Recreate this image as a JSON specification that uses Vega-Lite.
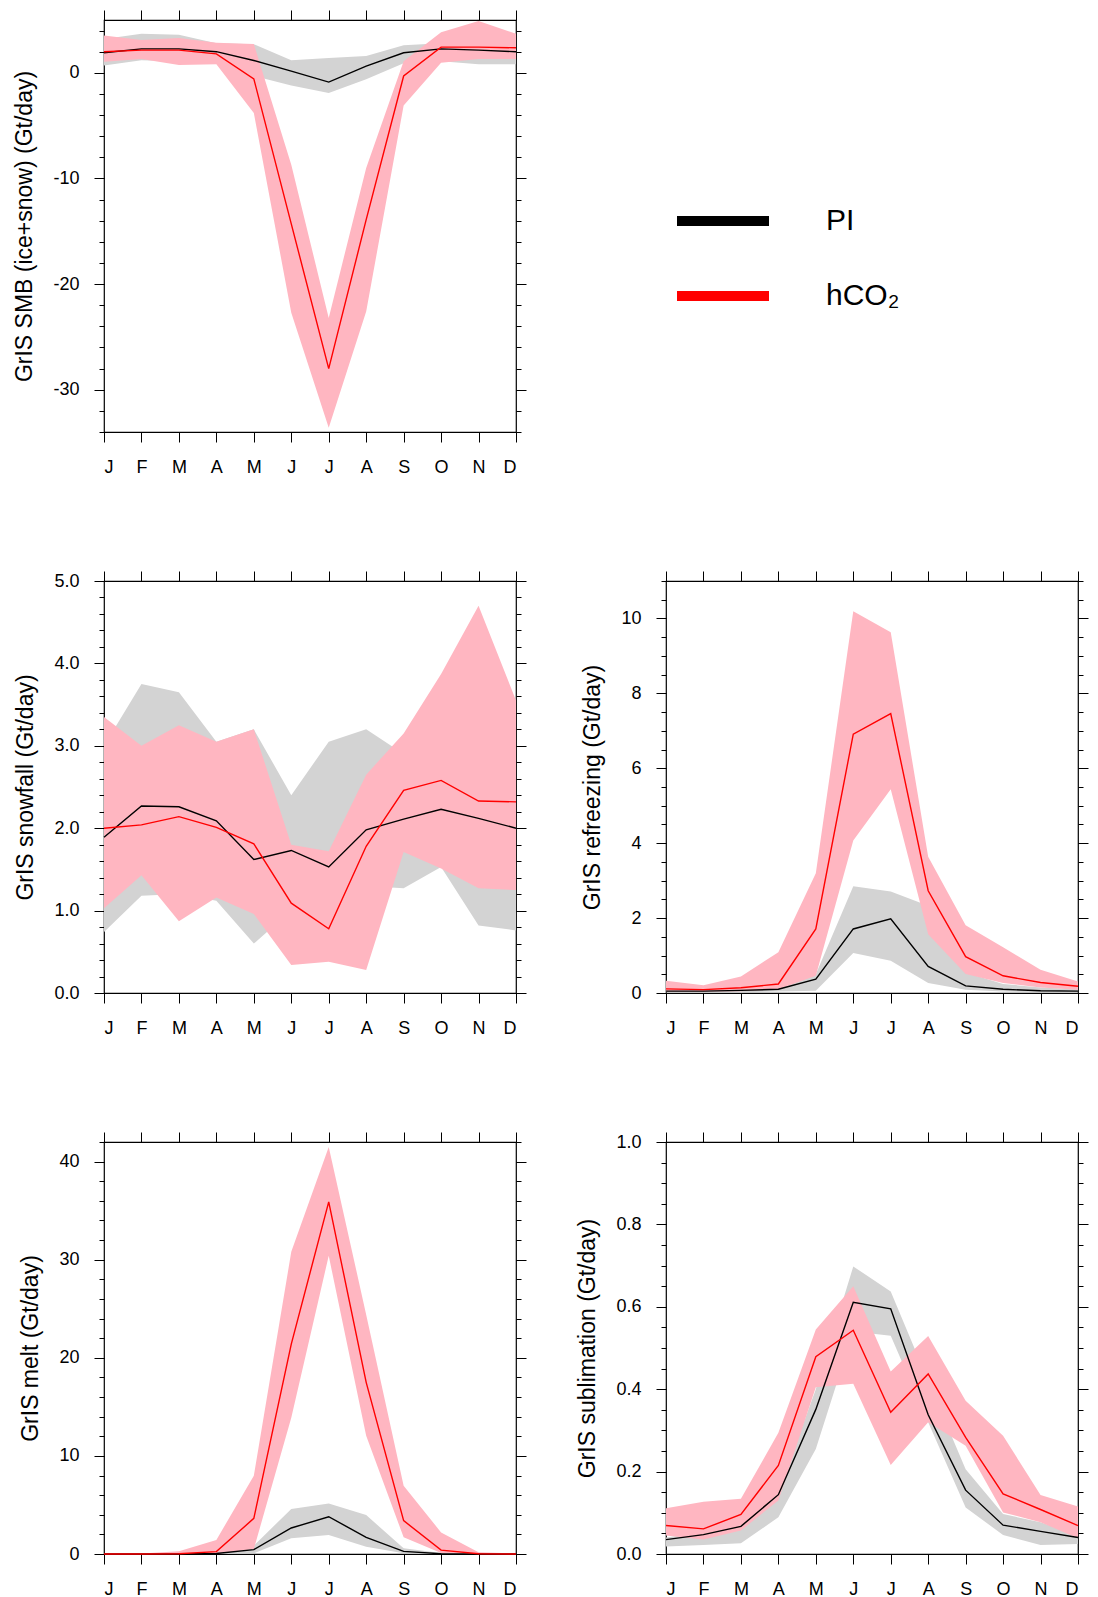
{
  "$schema": "https://vega.github.io/schema/vega-lite/v6.json",
  "padding": {"left": 13, "top": 8, "right": 5, "bottom": 5},
  "background": "white",
  "config": {
    "font": "Liberation Sans",
    "view": {"stroke": "black", "strokeWidth": 1.2},
    "axis": {"grid": false, "domain": false, "tickColor": "black", "tickWidth": 1, "labelColor": "black", "titleColor": "black", "labelFont": "Liberation Sans", "titleFont": "Liberation Sans", "labelFontSize": 18, "titleFontSize": 23, "titleFontWeight": "normal", "labelPadding": 15, "titlePadding": 16}
  },
  "datasets": {
    "smb": [
      {"m":1,"s":"PI","y":1.9,"lo":0.7,"hi":3.2},{"m":2,"s":"PI","y":2.27,"lo":1.2,"hi":3.7},{"m":3,"s":"PI","y":2.27,"lo":1.1,"hi":3.6},{"m":4,"s":"PI","y":2.0,"lo":1.0,"hi":2.8},{"m":5,"s":"PI","y":1.17,"lo":-0.3,"hi":2.7},{"m":6,"s":"PI","y":0.16,"lo":-1.2,"hi":1.2},{"m":7,"s":"PI","y":-0.88,"lo":-1.9,"hi":1.4},{"m":8,"s":"PI","y":0.63,"lo":-0.6,"hi":1.6},{"m":9,"s":"PI","y":1.9,"lo":0.9,"hi":2.6},{"m":10,"s":"PI","y":2.27,"lo":1.1,"hi":2.8},{"m":11,"s":"PI","y":2.15,"lo":0.8,"hi":2.9},{"m":12,"s":"PI","y":2.0,"lo":0.8,"hi":2.8},
      {"m":1,"s":"hCO2","y":2.0,"lo":1.04,"hi":3.53},{"m":2,"s":"hCO2","y":2.15,"lo":1.3,"hi":3.1},{"m":3,"s":"hCO2","y":2.15,"lo":0.73,"hi":3.3},{"m":4,"s":"hCO2","y":1.8,"lo":0.8,"hi":2.84},{"m":5,"s":"hCO2","y":-0.57,"lo":-3.8,"hi":2.74},{"m":6,"s":"hCO2","y":-14.3,"lo":-22.7,"hi":-8.7},{"m":7,"s":"hCO2","y":-28.0,"lo":-33.6,"hi":-23.2},{"m":8,"s":"hCO2","y":-13.9,"lo":-22.6,"hi":-9.0},{"m":9,"s":"hCO2","y":-0.3,"lo":-3.1,"hi":1.1},{"m":10,"s":"hCO2","y":2.43,"lo":0.95,"hi":3.85},{"m":11,"s":"hCO2","y":2.43,"lo":1.3,"hi":4.9},{"m":12,"s":"hCO2","y":2.37,"lo":1.3,"hi":3.7}
    ],
    "snow": [
      {"m":1,"s":"PI","y":1.89,"lo":0.74,"hi":3.0},{"m":2,"s":"PI","y":2.27,"lo":1.18,"hi":3.75},{"m":3,"s":"PI","y":2.26,"lo":1.2,"hi":3.65},{"m":4,"s":"PI","y":2.09,"lo":1.12,"hi":3.05},{"m":5,"s":"PI","y":1.62,"lo":0.6,"hi":3.2},{"m":6,"s":"PI","y":1.73,"lo":1.0,"hi":2.4},{"m":7,"s":"PI","y":1.53,"lo":1.0,"hi":3.05},{"m":8,"s":"PI","y":1.98,"lo":1.3,"hi":3.2},{"m":9,"s":"PI","y":2.11,"lo":1.27,"hi":2.9},{"m":10,"s":"PI","y":2.23,"lo":1.53,"hi":3.0},{"m":11,"s":"PI","y":2.12,"lo":0.82,"hi":2.8},{"m":12,"s":"PI","y":2.0,"lo":0.76,"hi":2.6},
      {"m":1,"s":"hCO2","y":2.0,"lo":1.03,"hi":3.35},{"m":2,"s":"hCO2","y":2.04,"lo":1.43,"hi":3.0},{"m":3,"s":"hCO2","y":2.14,"lo":0.87,"hi":3.25},{"m":4,"s":"hCO2","y":2.01,"lo":1.16,"hi":3.05},{"m":5,"s":"hCO2","y":1.81,"lo":0.96,"hi":3.2},{"m":6,"s":"hCO2","y":1.09,"lo":0.34,"hi":1.8},{"m":7,"s":"hCO2","y":0.78,"lo":0.38,"hi":1.72},{"m":8,"s":"hCO2","y":1.78,"lo":0.28,"hi":2.65},{"m":9,"s":"hCO2","y":2.46,"lo":1.71,"hi":3.15},{"m":10,"s":"hCO2","y":2.58,"lo":1.51,"hi":3.87},{"m":11,"s":"hCO2","y":2.33,"lo":1.27,"hi":4.7},{"m":12,"s":"hCO2","y":2.32,"lo":1.25,"hi":3.55}
    ],
    "refr": [
      {"m":1,"s":"PI","y":0.05,"lo":0.02,"hi":0.09},{"m":2,"s":"PI","y":0.05,"lo":0.02,"hi":0.1},{"m":3,"s":"PI","y":0.07,"lo":0.02,"hi":0.15},{"m":4,"s":"PI","y":0.1,"lo":0.04,"hi":0.24},{"m":5,"s":"PI","y":0.37,"lo":0.06,"hi":0.5},{"m":6,"s":"PI","y":1.71,"lo":1.07,"hi":2.85},{"m":7,"s":"PI","y":1.98,"lo":0.86,"hi":2.71},{"m":8,"s":"PI","y":0.71,"lo":0.27,"hi":2.33},{"m":9,"s":"PI","y":0.19,"lo":0.09,"hi":0.55},{"m":10,"s":"PI","y":0.1,"lo":0.04,"hi":0.24},{"m":11,"s":"PI","y":0.06,"lo":0.03,"hi":0.15},{"m":12,"s":"PI","y":0.05,"lo":0.02,"hi":0.1},
      {"m":1,"s":"hCO2","y":0.11,"lo":0.04,"hi":0.33},{"m":2,"s":"hCO2","y":0.09,"lo":0.04,"hi":0.21},{"m":3,"s":"hCO2","y":0.14,"lo":0.05,"hi":0.44},{"m":4,"s":"hCO2","y":0.24,"lo":0.1,"hi":1.09},{"m":5,"s":"hCO2","y":1.71,"lo":0.46,"hi":3.2},{"m":6,"s":"hCO2","y":6.91,"lo":4.07,"hi":10.19},{"m":7,"s":"hCO2","y":7.46,"lo":5.44,"hi":9.63},{"m":8,"s":"hCO2","y":2.73,"lo":1.57,"hi":3.64},{"m":9,"s":"hCO2","y":0.97,"lo":0.51,"hi":1.81},{"m":10,"s":"hCO2","y":0.46,"lo":0.27,"hi":1.22},{"m":11,"s":"hCO2","y":0.28,"lo":0.15,"hi":0.62},{"m":12,"s":"hCO2","y":0.18,"lo":0.09,"hi":0.31}
    ],
    "melt": [
      {"m":1,"s":"PI","y":0,"lo":0,"hi":0},{"m":2,"s":"PI","y":0,"lo":0,"hi":0},{"m":3,"s":"PI","y":0,"lo":0,"hi":0.05},{"m":4,"s":"PI","y":0.05,"lo":0,"hi":0.15},{"m":5,"s":"PI","y":0.44,"lo":0.07,"hi":0.85},{"m":6,"s":"PI","y":2.65,"lo":1.6,"hi":4.6},{"m":7,"s":"PI","y":3.8,"lo":1.94,"hi":5.16},{"m":8,"s":"PI","y":1.7,"lo":0.75,"hi":3.97},{"m":9,"s":"PI","y":0.27,"lo":0.07,"hi":0.58},{"m":10,"s":"PI","y":0.03,"lo":0,"hi":0.1},{"m":11,"s":"PI","y":0,"lo":0,"hi":0.02},{"m":12,"s":"PI","y":0,"lo":0,"hi":0},
      {"m":1,"s":"hCO2","y":0,"lo":0,"hi":0.05},{"m":2,"s":"hCO2","y":0,"lo":0,"hi":0.05},{"m":3,"s":"hCO2","y":0.03,"lo":0,"hi":0.27},{"m":4,"s":"hCO2","y":0.24,"lo":0.02,"hi":1.43},{"m":5,"s":"hCO2","y":3.63,"lo":0.5,"hi":7.98},{"m":6,"s":"hCO2","y":21.4,"lo":13.9,"hi":30.8},{"m":7,"s":"hCO2","y":35.9,"lo":30.4,"hi":41.5},{"m":8,"s":"hCO2","y":17.5,"lo":12.05,"hi":24.4},{"m":9,"s":"hCO2","y":3.4,"lo":1.7,"hi":6.96},{"m":10,"s":"hCO2","y":0.4,"lo":0.1,"hi":2.2},{"m":11,"s":"hCO2","y":0.03,"lo":0,"hi":0.17},{"m":12,"s":"hCO2","y":0,"lo":0,"hi":0.07}
    ],
    "subl": [
      {"m":1,"s":"PI","y":0.035,"lo":0.018,"hi":0.04},{"m":2,"s":"PI","y":0.047,"lo":0.022,"hi":0.053},{"m":3,"s":"PI","y":0.067,"lo":0.026,"hi":0.072},{"m":4,"s":"PI","y":0.144,"lo":0.089,"hi":0.15},{"m":5,"s":"PI","y":0.351,"lo":0.255,"hi":0.4},{"m":6,"s":"PI","y":0.611,"lo":0.54,"hi":0.698},{"m":7,"s":"PI","y":0.595,"lo":0.53,"hi":0.637},{"m":8,"s":"PI","y":0.338,"lo":0.32,"hi":0.42},{"m":9,"s":"PI","y":0.155,"lo":0.113,"hi":0.206},{"m":10,"s":"PI","y":0.07,"lo":0.046,"hi":0.097},{"m":11,"s":"PI","y":0.055,"lo":0.022,"hi":0.077},{"m":12,"s":"PI","y":0.04,"lo":0.024,"hi":0.045},
      {"m":1,"s":"hCO2","y":0.069,"lo":0.045,"hi":0.111},{"m":2,"s":"hCO2","y":0.061,"lo":0.035,"hi":0.127},{"m":3,"s":"hCO2","y":0.096,"lo":0.057,"hi":0.134},{"m":4,"s":"hCO2","y":0.215,"lo":0.13,"hi":0.294},{"m":5,"s":"hCO2","y":0.479,"lo":0.405,"hi":0.545},{"m":6,"s":"hCO2","y":0.543,"lo":0.413,"hi":0.65},{"m":7,"s":"hCO2","y":0.344,"lo":0.216,"hi":0.443},{"m":8,"s":"hCO2","y":0.437,"lo":0.32,"hi":0.529},{"m":9,"s":"hCO2","y":0.283,"lo":0.263,"hi":0.372},{"m":10,"s":"hCO2","y":0.146,"lo":0.101,"hi":0.287},{"m":11,"s":"hCO2","y":0.108,"lo":0.077,"hi":0.143},{"m":12,"s":"hCO2","y":0.069,"lo":0.038,"hi":0.115}
    ]
  },
  "columns": 2,
  "spacing": {"row": 149, "column": 150},
  "bounds": "flush",
  "concat": [
    {
      "width": 412, "height": 412,
      "data": {"name": "smb"},
      "resolve": {"axis": {"x": "independent", "y": "independent"}},
      "layer": [
        {"transform": [{"filter": "datum.s == 'PI'"}], "mark": {"type": "area", "color": "#d3d3d3", "opacity": 1},
         "encoding": {"x": {"field": "m", "type": "quantitative", "scale": {"domain": [1, 12], "nice": false}, "axis": {"orient": "bottom", "values": [1,2,3,4,5,6,7,8,9,10,11,12], "tickSize": 10, "labelPadding": 16, "title": null, "labelExpr": "['J','F','M','A','M','J','J','A','S','O','N','D'][datum.value-1]"}},
                      "y": {"field": "lo", "type": "quantitative", "scale": {"domain": [-34, 5], "nice": false, "zero": false}, "axis": {"orient": "left", "values": [-30,-20,-10,0], "tickSize": 10, "labelExpr": "'' + datum.value", "title": "GrIS SMB (ice+snow) (Gt/day)"}},
                      "y2": {"field": "hi"}}},
        {"transform": [{"filter": "datum.s == 'hCO2'"}], "mark": {"type": "area", "color": "#ffb6c1", "opacity": 1},
         "encoding": {"x": {"field": "m", "type": "quantitative", "axis": {"orient": "top", "values": [1,2,3,4,5,6,7,8,9,10,11,12], "tickSize": 10, "labels": false, "title": null}},
                      "y": {"field": "lo", "type": "quantitative", "axis": {"orient": "left", "values": [-34,-32,-30,-28,-26,-24,-22,-20,-18,-16,-14,-12,-10,-8,-6,-4,-2,0,2,4], "tickSize": 5, "labels": false, "title": null}},
                      "y2": {"field": "hi"}}},
        {"transform": [{"filter": "datum.s == 'PI'"}], "mark": {"type": "line", "color": "black", "strokeWidth": 1.4},
         "encoding": {"x": {"field": "m", "type": "quantitative", "axis": null},
                      "y": {"field": "y", "type": "quantitative", "axis": {"orient": "right", "values": [-30,-20,-10,0], "tickSize": 10, "labels": false, "title": null}}}},
        {"transform": [{"filter": "datum.s == 'hCO2'"}], "mark": {"type": "line", "color": "red", "strokeWidth": 1.4},
         "encoding": {"x": {"field": "m", "type": "quantitative", "axis": null},
                      "y": {"field": "y", "type": "quantitative", "axis": {"orient": "right", "values": [-34,-32,-30,-28,-26,-24,-22,-20,-18,-16,-14,-12,-10,-8,-6,-4,-2,0,2,4], "tickSize": 5, "labels": false, "title": null}}}}
      ]
    },
    {
      "width": 412, "height": 412,
      "view": {"stroke": null},
      "data": {"name": "smb"},
      "transform": [{"filter": "datum.m < 0"}],
      "mark": {"type": "line"},
      "encoding": {
        "stroke": {"field": "s", "type": "nominal", "scale": {"domain": ["PI", "hCO2"], "range": ["black", "red"]},
                   "legend": {"orient": "none", "legendX": 568, "legendY": 150, "title": null, "symbolType": "stroke", "symbolSize": 8464, "symbolStrokeWidth": 10, "labelFontSize": 30, "labelFont": "Liberation Sans", "labelColor": "black", "labelOffset": 52, "rowPadding": 4, "labelExpr": "datum.value == 'hCO2' ? 'hCO₂' : datum.value"}}
      }
    },
    {
      "width": 412, "height": 412,
      "data": {"name": "snow"},
      "resolve": {"axis": {"x": "independent", "y": "independent"}},
      "layer": [
        {"transform": [{"filter": "datum.s == 'PI'"}], "mark": {"type": "area", "color": "#d3d3d3", "opacity": 1},
         "encoding": {"x": {"field": "m", "type": "quantitative", "scale": {"domain": [1, 12], "nice": false}, "axis": {"orient": "bottom", "values": [1,2,3,4,5,6,7,8,9,10,11,12], "tickSize": 10, "labelPadding": 16, "title": null, "labelExpr": "['J','F','M','A','M','J','J','A','S','O','N','D'][datum.value-1]"}},
                      "y": {"field": "lo", "type": "quantitative", "scale": {"domain": [0, 5], "nice": false, "zero": false}, "axis": {"orient": "left", "values": [0,1,2,3,4,5], "tickSize": 10, "format": ".1f", "title": "GrIS snowfall (Gt/day)"}},
                      "y2": {"field": "hi"}}},
        {"transform": [{"filter": "datum.s == 'hCO2'"}], "mark": {"type": "area", "color": "#ffb6c1", "opacity": 1},
         "encoding": {"x": {"field": "m", "type": "quantitative", "axis": {"orient": "top", "values": [1,2,3,4,5,6,7,8,9,10,11,12], "tickSize": 10, "labels": false, "title": null}},
                      "y": {"field": "lo", "type": "quantitative", "axis": {"orient": "left", "values": [0,0.2,0.4,0.6,0.8,1,1.2,1.4,1.6,1.8,2,2.2,2.4,2.6,2.8,3,3.2,3.4,3.6,3.8,4,4.2,4.4,4.6,4.8,5], "tickSize": 5, "labels": false, "title": null}},
                      "y2": {"field": "hi"}}},
        {"transform": [{"filter": "datum.s == 'PI'"}], "mark": {"type": "line", "color": "black", "strokeWidth": 1.4},
         "encoding": {"x": {"field": "m", "type": "quantitative", "axis": null},
                      "y": {"field": "y", "type": "quantitative", "axis": {"orient": "right", "values": [0,1,2,3,4,5], "tickSize": 10, "labels": false, "title": null}}}},
        {"transform": [{"filter": "datum.s == 'hCO2'"}], "mark": {"type": "line", "color": "red", "strokeWidth": 1.4},
         "encoding": {"x": {"field": "m", "type": "quantitative", "axis": null},
                      "y": {"field": "y", "type": "quantitative", "axis": {"orient": "right", "values": [0,0.2,0.4,0.6,0.8,1,1.2,1.4,1.6,1.8,2,2.2,2.4,2.6,2.8,3,3.2,3.4,3.6,3.8,4,4.2,4.4,4.6,4.8,5], "tickSize": 5, "labels": false, "title": null}}}}
      ]
    },
    {
      "width": 412, "height": 412,
      "data": {"name": "refr"},
      "resolve": {"axis": {"x": "independent", "y": "independent"}},
      "layer": [
        {"transform": [{"filter": "datum.s == 'PI'"}], "mark": {"type": "area", "color": "#d3d3d3", "opacity": 1},
         "encoding": {"x": {"field": "m", "type": "quantitative", "scale": {"domain": [1, 12], "nice": false}, "axis": {"orient": "bottom", "values": [1,2,3,4,5,6,7,8,9,10,11,12], "tickSize": 10, "labelPadding": 16, "title": null, "labelExpr": "['J','F','M','A','M','J','J','A','S','O','N','D'][datum.value-1]"}},
                      "y": {"field": "lo", "type": "quantitative", "scale": {"domain": [0, 11], "nice": false, "zero": false}, "axis": {"orient": "left", "values": [0,2,4,6,8,10], "tickSize": 10, "format": "d", "title": "GrIS refreezing (Gt/day)"}},
                      "y2": {"field": "hi"}}},
        {"transform": [{"filter": "datum.s == 'hCO2'"}], "mark": {"type": "area", "color": "#ffb6c1", "opacity": 1},
         "encoding": {"x": {"field": "m", "type": "quantitative", "axis": {"orient": "top", "values": [1,2,3,4,5,6,7,8,9,10,11,12], "tickSize": 10, "labels": false, "title": null}},
                      "y": {"field": "lo", "type": "quantitative", "axis": {"orient": "left", "values": [0,0.5,1,1.5,2,2.5,3,3.5,4,4.5,5,5.5,6,6.5,7,7.5,8,8.5,9,9.5,10,10.5,11], "tickSize": 5, "labels": false, "title": null}},
                      "y2": {"field": "hi"}}},
        {"transform": [{"filter": "datum.s == 'PI'"}], "mark": {"type": "line", "color": "black", "strokeWidth": 1.4},
         "encoding": {"x": {"field": "m", "type": "quantitative", "axis": null},
                      "y": {"field": "y", "type": "quantitative", "axis": {"orient": "right", "values": [0,2,4,6,8,10], "tickSize": 10, "labels": false, "title": null}}}},
        {"transform": [{"filter": "datum.s == 'hCO2'"}], "mark": {"type": "line", "color": "red", "strokeWidth": 1.4},
         "encoding": {"x": {"field": "m", "type": "quantitative", "axis": null},
                      "y": {"field": "y", "type": "quantitative", "axis": {"orient": "right", "values": [0,0.5,1,1.5,2,2.5,3,3.5,4,4.5,5,5.5,6,6.5,7,7.5,8,8.5,9,9.5,10,10.5,11], "tickSize": 5, "labels": false, "title": null}}}}
      ]
    },
    {
      "width": 412, "height": 412,
      "data": {"name": "melt"},
      "resolve": {"axis": {"x": "independent", "y": "independent"}},
      "layer": [
        {"transform": [{"filter": "datum.s == 'PI'"}], "mark": {"type": "area", "color": "#d3d3d3", "opacity": 1},
         "encoding": {"x": {"field": "m", "type": "quantitative", "scale": {"domain": [1, 12], "nice": false}, "axis": {"orient": "bottom", "values": [1,2,3,4,5,6,7,8,9,10,11,12], "tickSize": 10, "labelPadding": 16, "title": null, "labelExpr": "['J','F','M','A','M','J','J','A','S','O','N','D'][datum.value-1]"}},
                      "y": {"field": "lo", "type": "quantitative", "scale": {"domain": [0, 42], "nice": false, "zero": false}, "axis": {"orient": "left", "values": [0,10,20,30,40], "tickSize": 10, "format": "d", "title": "GrIS melt (Gt/day)"}},
                      "y2": {"field": "hi"}}},
        {"transform": [{"filter": "datum.s == 'hCO2'"}], "mark": {"type": "area", "color": "#ffb6c1", "opacity": 1},
         "encoding": {"x": {"field": "m", "type": "quantitative", "axis": {"orient": "top", "values": [1,2,3,4,5,6,7,8,9,10,11,12], "tickSize": 10, "labels": false, "title": null}},
                      "y": {"field": "lo", "type": "quantitative", "axis": {"orient": "left", "values": [0,2,4,6,8,10,12,14,16,18,20,22,24,26,28,30,32,34,36,38,40,42], "tickSize": 5, "labels": false, "title": null}},
                      "y2": {"field": "hi"}}},
        {"transform": [{"filter": "datum.s == 'PI'"}], "mark": {"type": "line", "color": "black", "strokeWidth": 1.4},
         "encoding": {"x": {"field": "m", "type": "quantitative", "axis": null},
                      "y": {"field": "y", "type": "quantitative", "axis": {"orient": "right", "values": [0,10,20,30,40], "tickSize": 10, "labels": false, "title": null}}}},
        {"transform": [{"filter": "datum.s == 'hCO2'"}], "mark": {"type": "line", "color": "red", "strokeWidth": 1.4},
         "encoding": {"x": {"field": "m", "type": "quantitative", "axis": null},
                      "y": {"field": "y", "type": "quantitative", "axis": {"orient": "right", "values": [0,2,4,6,8,10,12,14,16,18,20,22,24,26,28,30,32,34,36,38,40,42], "tickSize": 5, "labels": false, "title": null}}}}
      ]
    },
    {
      "width": 412, "height": 412,
      "data": {"name": "subl"},
      "resolve": {"axis": {"x": "independent", "y": "independent"}},
      "layer": [
        {"transform": [{"filter": "datum.s == 'PI'"}], "mark": {"type": "area", "color": "#d3d3d3", "opacity": 1},
         "encoding": {"x": {"field": "m", "type": "quantitative", "scale": {"domain": [1, 12], "nice": false}, "axis": {"orient": "bottom", "values": [1,2,3,4,5,6,7,8,9,10,11,12], "tickSize": 10, "labelPadding": 16, "title": null, "labelExpr": "['J','F','M','A','M','J','J','A','S','O','N','D'][datum.value-1]"}},
                      "y": {"field": "lo", "type": "quantitative", "scale": {"domain": [0, 1], "nice": false, "zero": false}, "axis": {"orient": "left", "values": [0,0.2,0.4,0.6,0.8,1], "tickSize": 10, "format": ".1f", "title": "GrIS sublimation (Gt/day)"}},
                      "y2": {"field": "hi"}}},
        {"transform": [{"filter": "datum.s == 'hCO2'"}], "mark": {"type": "area", "color": "#ffb6c1", "opacity": 1},
         "encoding": {"x": {"field": "m", "type": "quantitative", "axis": {"orient": "top", "values": [1,2,3,4,5,6,7,8,9,10,11,12], "tickSize": 10, "labels": false, "title": null}},
                      "y": {"field": "lo", "type": "quantitative", "axis": {"orient": "left", "values": [0,0.05,0.1,0.15,0.2,0.25,0.3,0.35,0.4,0.45,0.5,0.55,0.6,0.65,0.7,0.75,0.8,0.85,0.9,0.95,1], "tickSize": 5, "labels": false, "title": null}},
                      "y2": {"field": "hi"}}},
        {"transform": [{"filter": "datum.s == 'PI'"}], "mark": {"type": "line", "color": "black", "strokeWidth": 1.4},
         "encoding": {"x": {"field": "m", "type": "quantitative", "axis": null},
                      "y": {"field": "y", "type": "quantitative", "axis": {"orient": "right", "values": [0,0.2,0.4,0.6,0.8,1], "tickSize": 10, "labels": false, "title": null}}}},
        {"transform": [{"filter": "datum.s == 'hCO2'"}], "mark": {"type": "line", "color": "red", "strokeWidth": 1.4},
         "encoding": {"x": {"field": "m", "type": "quantitative", "axis": null},
                      "y": {"field": "y", "type": "quantitative", "axis": {"orient": "right", "values": [0,0.05,0.1,0.15,0.2,0.25,0.3,0.35,0.4,0.45,0.5,0.55,0.6,0.65,0.7,0.75,0.8,0.85,0.9,0.95,1], "tickSize": 5, "labels": false, "title": null}}}}
      ]
    }
  ]
}
